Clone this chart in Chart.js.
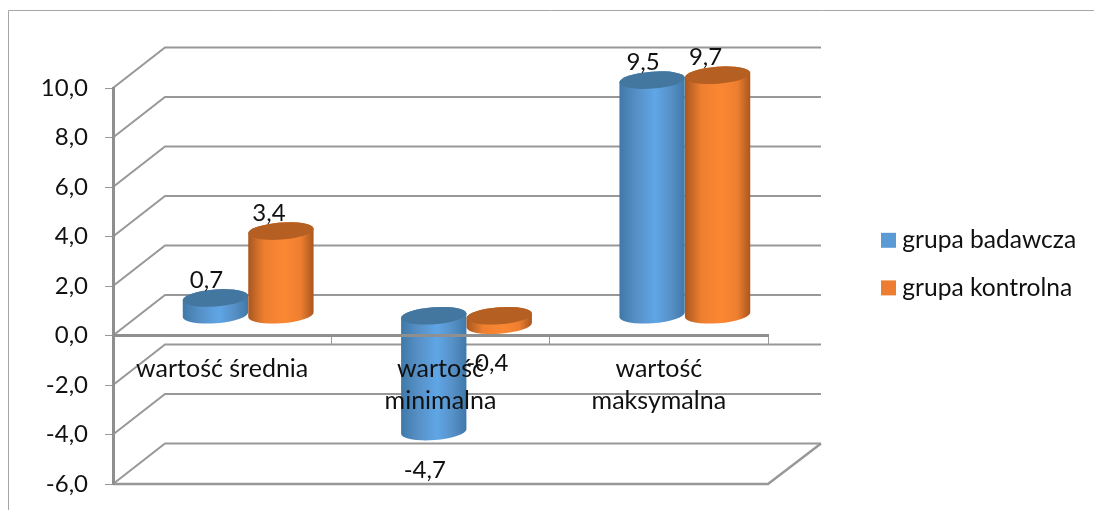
<!DOCTYPE html>
<html>
<head>
<meta charset="utf-8">
<script src="https://cdn.jsdelivr.net/npm/chart.js@4"></script>
<style>
    html, body { margin: 0; background: #fff; overflow: hidden; }
    canvas { display: block; }
</style>
</head>
<body>
<canvas id="chart" width="1094" height="510"></canvas>
<script>
const categories = [['wartość', 'średnia'], ['wartość', 'minimalna'], ['wartość', 'maksymalna']];
const seriesNames = ['grupa badawcza', 'grupa kontrolna'];
const grupaBadawcza = [0.7, -4.7, 9.5];
const grupaKontrolna = [3.4, -0.4, 9.7];
const yMin = -6;
const yMax = 10;
const yStep = 2;

const FONT = 'Lato, Carlito, sans-serif';
const GREY = '#989898';
const DEPTH_X = 52;
const DEPTH_Y = 40.5;

const fmt = v => v.toFixed(1).replace('.', ',');

// 3D look of the chart: back wall, floor and the outer frame
const wallsPlugin = {
    id: 'walls',
    beforeDraw(chart) {
        const ctx = chart.ctx;
        const { left, right } = chart.chartArea;
        const y = chart.scales.y;
        ctx.save();
        ctx.strokeStyle = '#a6a6a6';
        ctx.lineWidth = 1;
        ctx.beginPath();
        ctx.moveTo(8.5, 510);
        ctx.lineTo(8.5, 10.5);
        ctx.lineTo(1094, 10.5);
        ctx.stroke();

        ctx.strokeStyle = GREY;
        ctx.lineWidth = 2;
        y.ticks.forEach(t => {
            const py = y.getPixelForValue(t.value);
            ctx.beginPath();
            ctx.moveTo(left, py);
            ctx.lineTo(left + DEPTH_X, py - DEPTH_Y);
            ctx.lineTo(right + DEPTH_X + 1, py - DEPTH_Y);
            ctx.stroke();
        });
        // floor at the bottom of the value axis
        const floor = y.getPixelForValue(yMin);
        ctx.lineWidth = 2.5;
        ctx.beginPath();
        ctx.moveTo(left, floor);
        ctx.lineTo(right, floor);
        ctx.lineTo(right + DEPTH_X + 1, floor - DEPTH_Y);
        ctx.stroke();
        ctx.restore();
    }
};

function drawCylinder(ctx, bar, light, dark, edge, cap) {
    const cx = bar.x + DEPTH_X / 2;
    const rx = bar.width / 2;
    const ry = 8.5;
    const tilt = -0.075;
    const top = Math.min(bar.y, bar.base) - DEPTH_Y / 2;
    const bottom = Math.max(bar.y, bar.base) - DEPTH_Y / 2;

    const g = ctx.createLinearGradient(cx - rx, 0, cx + rx, 0);
    g.addColorStop(0, edge);
    g.addColorStop(0.25, dark);
    g.addColorStop(0.55, light);
    g.addColorStop(0.8, dark);
    g.addColorStop(1, edge);

    ctx.fillStyle = g;
    ctx.beginPath();
    ctx.ellipse(cx, bottom, rx, ry, tilt, 0, Math.PI);
    ctx.ellipse(cx, top, rx, ry, tilt, Math.PI, Math.PI * 2);
    ctx.closePath();
    ctx.fill();

    ctx.fillStyle = cap;
    ctx.beginPath();
    ctx.ellipse(cx, top, rx, ry, tilt, 0, Math.PI * 2);
    ctx.fill();
}

const cylinderColors = [
    { light: '#5fa6e6', dark: '#568fc5', edge: '#3f79a8', cap: '#44779f' },
    { light: '#fb8733', dark: '#ee7f30', edge: '#a9561f', cap: '#b55f23' }
];

// bars are painted as cylinders, first series first so the second overlaps it
const cylinderPlugin = {
    id: 'cylinders',
    beforeDatasetDraw() {
        return false;
    },
    afterDatasetsDraw(chart) {
        const ctx = chart.ctx;
        chart.data.datasets.forEach((ds, i) => {
            const c = cylinderColors[i];
            chart.getDatasetMeta(i).data.forEach(bar => {
                drawCylinder(ctx, bar, c.light, c.dark, c.edge, c.cap);
            });
        });
        ctx.save();
        ctx.font = '24px ' + FONT;
        ctx.fillStyle = '#111';
        ctx.textAlign = 'center';
        ctx.textBaseline = 'middle';
        chart.data.datasets.forEach((ds, i) => {
            chart.getDatasetMeta(i).data.forEach((bar, j) => {
                const v = ds.data[j];
                ctx.fillText(fmt(v), bar.x + 17 - 3 * i, bar.y + (v < 0 ? 18 : -38));
            });
        });
        ctx.restore();
    }
};

// legend sits further right than the layout would put it
const legendPlugin = {
    id: 'legendSpot',
    afterLayout(chart) {
        const l = chart.legend;
        l.left = 864;
        l.right = 1094;
        l.top = 205;
        l.bottom = 510;
    }
};

new Chart(document.getElementById('chart'), {
    type: 'bar',
    data: {
        labels: categories,
        datasets: [
            { label: seriesNames[0], data: grupaBadawcza, backgroundColor: '#5b9bd5', borderColor: '#5b9bd5', borderWidth: 12 },
            { label: seriesNames[1], data: grupaKontrolna, backgroundColor: '#ed7d31', borderColor: '#ed7d31', borderWidth: 12 }
        ]
    },
    plugins: [wallsPlugin, cylinderPlugin, legendPlugin],
    options: {
        responsive: false,
        animation: false,
        events: [],
        categoryPercentage: 0.6,
        barPercentage: 1,
        layout: { padding: { left: 0, top: 88, bottom: 26, right: 126 } },
        font: { family: FONT },
        plugins: {
            title: { display: false },
            tooltip: { enabled: false },
            legend: {
                position: 'right',
                align: 'start',
                maxWidth: 200,
                labels: {
                    boxWidth: 3,
                    boxHeight: 3,
                    padding: 23,
                    color: '#111',
                    font: { family: FONT, size: 24.6 }
                }
            }
        },
        scales: {
            x: {
                position: { y: 0 },
                offset: true,
                grid: { display: true, drawOnChartArea: false, drawTicks: true, tickLength: 8, color: GREY, offset: true },
                border: { display: true, color: '#8f8f8f', width: 3, z: 1 },
                ticks: {
                    z: 1,
                    padding: 9,
                    maxRotation: 0,
                    autoSkip: false,
                    color: '#111',
                    font: { family: FONT, size: 25, lineHeight: 1.28 },
                    // first category stays on one line
                    callback: function(value, index) {
                        return index === 0 ? categories[0].join(' ') : categories[index];
                    }
                }
            },
            y: {
                min: yMin,
                max: yMax,
                // tick label margins would otherwise push the plot bottom up
                afterFit: scale => {
                    scale.width = 113;
                    scale.paddingTop = 0;
                    scale.paddingBottom = 0;
                },
                grid: { display: true, drawOnChartArea: false, drawTicks: true, tickLength: 8, color: GREY },
                border: { display: true, color: '#8f8f8f', width: 3 },
                ticks: {
                    stepSize: yStep,
                    padding: 17,
                    color: '#111',
                    font: { family: FONT, size: 24 },
                    callback: v => fmt(v)
                }
            }
        }
    }
});
</script>
</body>
</html>
